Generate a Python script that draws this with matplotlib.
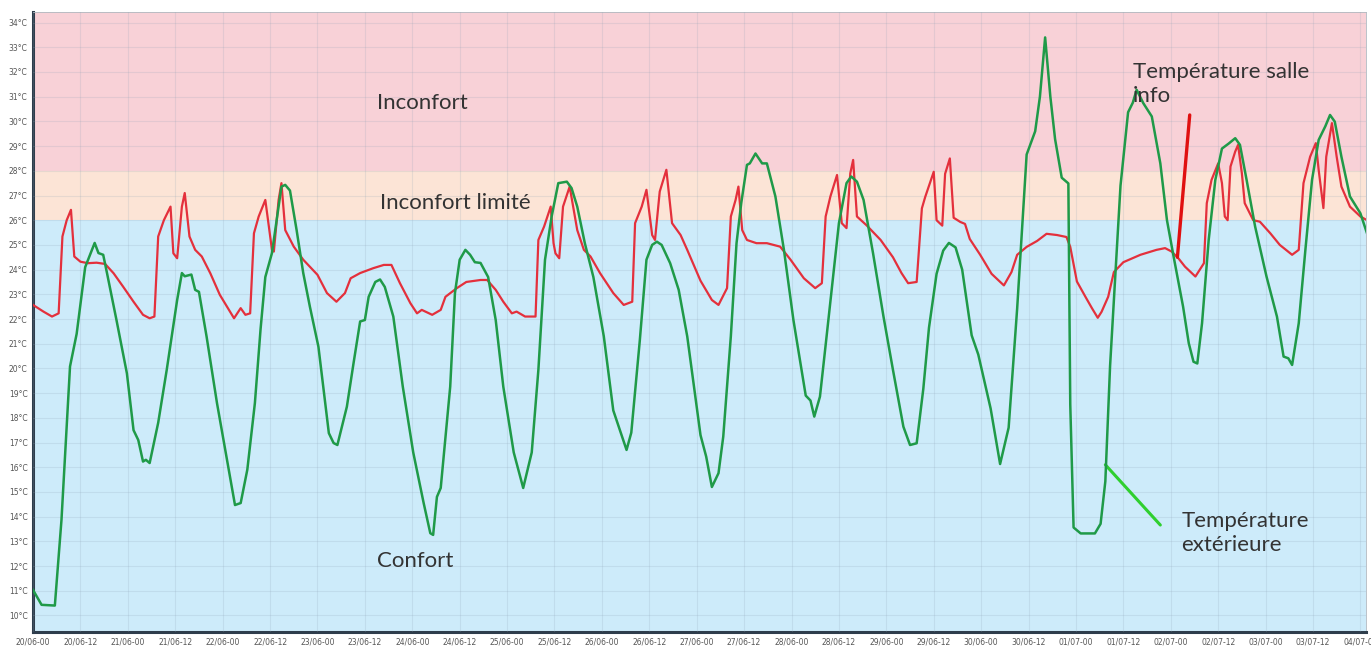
import matplotlib
matplotlib.use('Agg')
import matplotlib.pyplot as plt
import matplotlib.dates as mdates
import numpy as np
import pandas as pd

# start of the record, offsets below are in days
start = pd.Timestamp('2012-06-20 00:00')

# outdoor temperature (green)
ext_t = [0.0, 0.09, 0.23, 0.30, 0.39, 0.46, 0.55, 0.65, 0.69, 0.74, 0.78, 0.88, 0.99, 1.06, 1.11,
         1.16, 1.19, 1.23, 1.32, 1.41, 1.52, 1.57, 1.60, 1.67, 1.71, 1.75, 1.83, 1.94, 2.04, 2.13,
         2.19, 2.26, 2.34, 2.40, 2.45, 2.52, 2.62, 2.66, 2.71, 2.78, 2.85, 2.92, 3.01, 3.12, 3.17,
         3.21, 3.31, 3.38, 3.45, 3.50, 3.54, 3.61, 3.66, 3.71, 3.80, 3.90, 4.01, 4.12, 4.19, 4.22,
         4.26, 4.30, 4.40, 4.45, 4.50, 4.56, 4.61, 4.66, 4.72, 4.80, 4.88, 4.96, 5.07, 5.17, 5.26,
         5.33, 5.40, 5.47, 5.54, 5.63, 5.68, 5.74, 5.82, 5.91, 6.02, 6.12, 6.26, 6.31, 6.40, 6.47,
         6.53, 6.58, 6.63, 6.72, 6.81, 6.90, 7.04, 7.10, 7.16, 7.23, 7.28, 7.36, 7.42, 7.47, 7.53,
         7.56, 7.62, 7.69, 7.74, 7.83, 7.92, 8.02, 8.15, 8.20, 8.24, 8.30, 8.37, 8.50, 8.58, 8.63,
         8.69, 8.76, 8.86, 8.97, 9.07, 9.18, 9.25, 9.32, 9.39, 9.45, 9.53, 9.60, 9.66, 9.73, 9.80,
         9.90, 9.97, 10.10, 10.20, 10.29, 10.38, 10.48, 10.57, 10.62, 10.675, 10.73, 10.78, 10.85,
         10.92, 10.94, 10.975, 11.05, 11.20, 11.26, 11.31, 11.36, 11.47, 11.55, 11.60, 11.64, 11.71,
         11.80, 11.89, 11.96, 12.03, 12.13, 12.19, 12.24, 12.28, 12.33, 12.40, 12.47, 12.54, 12.61,
         12.68, 12.73, 12.80, 12.89, 13.01, 13.12, 13.19, 13.24, 13.28, 13.35, 13.42, 13.49, 13.56,
         13.63, 13.68, 13.73, 13.80, 13.89, 14.00, 14.07]
ext_T = [11.03, 10.43, 10.4, 13.87, 20.08, 21.4, 24.1, 25.08, 24.67, 24.6, 23.86, 21.96, 19.8, 17.5, 17.1,
         16.23, 16.3, 16.17, 17.8, 19.94, 22.77, 23.86, 23.73, 23.8, 23.18, 23.1, 21.3, 18.6, 16.43, 14.47,
         14.55, 15.9, 18.6, 21.6, 23.7, 24.67, 27.36, 27.43, 27.2, 25.6, 23.86, 22.5, 20.88, 17.38, 16.98,
         16.9, 18.45, 20.2, 21.9, 21.96, 22.9, 23.5, 23.6, 23.3, 22.1, 19.26, 16.6, 14.55, 13.33, 13.26,
         14.8, 15.16, 19.26, 23.05, 24.4, 24.8, 24.6, 24.3, 24.27, 23.7, 21.96, 19.26, 16.6, 15.16, 16.6,
         19.94, 24.4, 26.15, 27.5, 27.56, 27.3, 26.55, 25.07, 23.7, 21.3, 18.3, 16.7, 17.4, 21.14, 24.4,
         25.0, 25.13, 25.0, 24.26, 23.18, 21.3, 17.3, 16.43, 15.2, 15.76, 17.24, 21.3, 25.07, 26.7, 28.24,
         28.3, 28.7, 28.3, 28.3, 26.96, 24.8, 21.96, 18.9, 18.7, 18.05, 18.86, 21.3, 25.88, 27.5, 27.77,
         27.56, 26.82, 24.66, 22.1, 19.94, 17.64, 16.9, 16.97, 19.17, 21.65, 23.83, 24.77, 25.08, 24.9, 24.0,
         21.34, 20.56, 18.38, 16.13, 17.6, 22.43, 28.66, 29.6, 31.0, 33.4, 31.0, 29.28, 27.72,
         27.49, 18.54, 13.56, 13.32, 13.32, 13.71, 15.43, 20.1, 27.4, 30.37, 30.76, 31.28, 30.74,
         30.2, 28.3, 26.0, 24.53, 22.5, 21.02, 20.27, 20.2, 21.83, 25.2, 27.63, 28.9, 29.1,
         29.32, 29.05, 27.63, 25.74, 23.72, 22.1, 20.48, 20.41, 20.14, 21.83, 24.8, 27.63, 29.25,
         29.8, 30.26, 29.99, 28.57, 26.96, 26.28, 25.47]

# computer room temperature (red)
salle_t = [0.0, 0.11, 0.20, 0.27, 0.31, 0.355, 0.40, 0.435, 0.50, 0.58, 0.67, 0.76, 0.85, 0.95, 1.06,
           1.16, 1.23, 1.28, 1.32, 1.38, 1.45, 1.48, 1.52, 1.57, 1.60, 1.65, 1.71, 1.78, 1.87, 1.97,
           2.12, 2.19, 2.24, 2.29, 2.33, 2.38, 2.45, 2.52, 2.54, 2.59, 2.62, 2.66, 2.75, 2.85, 3.00,
           3.10, 3.20, 3.29, 3.35, 3.45, 3.59, 3.70, 3.78, 3.87, 3.98, 4.05, 4.10, 4.21, 4.30, 4.35,
           4.47, 4.57, 4.72, 4.79, 4.88, 4.96, 5.05, 5.10, 5.19, 5.30, 5.33, 5.39, 5.46, 5.49, 5.51,
           5.55, 5.59, 5.66, 5.74, 5.81, 5.88, 5.98, 6.12, 6.23, 6.32, 6.35, 6.42, 6.47, 6.53, 6.56,
           6.61, 6.68, 6.74, 6.83, 6.90, 7.04, 7.16, 7.23, 7.32, 7.36, 7.41, 7.44, 7.48, 7.53, 7.63,
           7.74, 7.88, 7.99, 8.13, 8.25, 8.32, 8.36, 8.41, 8.48, 8.53, 8.58, 8.62, 8.65, 8.69, 8.79,
           8.94, 9.07, 9.16, 9.23, 9.32, 9.375, 9.41, 9.50, 9.53, 9.59, 9.62, 9.67, 9.71, 9.78, 9.83,
           9.88, 9.99, 10.11, 10.24, 10.32, 10.38, 10.48, 10.59, 10.69, 10.80, 10.90, 10.94, 11.01,
           11.10, 11.17, 11.23, 11.27, 11.34, 11.40, 11.50, 11.68, 11.85, 11.94, 12.01, 12.08, 12.15,
           12.26, 12.35, 12.38, 12.43, 12.50, 12.54, 12.57, 12.60, 12.63, 12.68, 12.71, 12.75, 12.78,
           12.87, 12.94, 13.05, 13.15, 13.28, 13.35, 13.40, 13.47, 13.53, 13.56, 13.61, 13.64, 13.70,
           13.75, 13.80, 13.89, 14.00, 14.07]
salle_T = [22.57, 22.3, 22.1, 22.23, 25.34, 26.0, 26.42, 24.53, 24.32, 24.26, 24.28, 24.23, 23.85, 23.31, 22.7,
           22.17, 22.03, 22.1, 25.34, 26.0, 26.55, 24.66, 24.46, 26.55, 27.1, 25.34, 24.8, 24.53, 23.85, 22.98,
           22.03, 22.44, 22.17, 22.23, 25.47, 26.15, 26.82, 24.8, 24.73, 26.82, 27.5, 25.6, 24.93, 24.4, 23.79,
           23.05, 22.7, 23.05, 23.65, 23.86, 24.06, 24.19, 24.19, 23.45, 22.64, 22.23, 22.37, 22.17, 22.37, 22.9,
           23.25, 23.5, 23.58, 23.58, 23.18, 22.7, 22.23, 22.3, 22.1, 22.1, 25.2, 25.74, 26.55, 25.07, 24.66,
           24.46, 26.55, 27.36, 25.6, 24.8, 24.53, 23.86, 23.05, 22.57, 22.7, 25.88, 26.55, 27.23, 25.4, 25.2,
           27.16, 28.04, 25.88, 25.4, 24.8, 23.55, 22.77, 22.57, 23.25, 26.15, 26.82, 27.36, 25.6, 25.2, 25.07,
           25.07, 24.93, 24.4, 23.65, 23.25, 23.45, 26.15, 26.96, 27.83, 25.88, 25.68, 27.9, 28.44, 26.15, 25.8,
           25.2, 24.5, 23.86, 23.45, 23.5, 26.48, 26.94, 27.96, 26.0, 25.78, 27.88, 28.5, 26.1, 25.93, 25.85,
           25.24, 24.6, 23.83, 23.36, 23.9, 24.6, 24.92, 25.16, 25.45, 25.4, 25.32, 24.92, 23.52,
           22.9, 22.43, 22.05, 22.29, 22.9, 23.9, 24.3, 24.6, 24.8, 24.87, 24.73, 24.46, 24.12,
           23.72, 24.26, 26.69, 27.63, 28.3, 27.5, 26.15, 26.0, 28.17, 28.78, 29.05, 27.9, 26.69,
           26.0, 25.94, 25.47, 25.0, 24.6, 24.8, 27.5, 28.57, 29.12, 28.04, 26.49, 28.57, 29.93,
           28.57, 27.36, 26.55, 26.15, 26.0]

# comfort zones (°C)
zone_limits = [26, 28]
zone_names = ['Confort', 'Inconfort limité', 'Inconfort']

ext_x = start + pd.to_timedelta(ext_t, unit='D')
salle_x = start + pd.to_timedelta(salle_t, unit='D')


def day(d):
    return start + pd.Timedelta(days=d)


fig = plt.figure(figsize=(13.71, 6.47), dpi=100)
ax = fig.add_axes([0.0241, 0.0232, 0.9723, 0.9583])

ymin, ymax = 9.33, 34.43
ax.axhspan(ymin, zone_limits[0], color='#cdebfa', lw=0, zorder=0)
ax.axhspan(zone_limits[0], zone_limits[1], color='#fce4d6', lw=0, zorder=0)
ax.axhspan(zone_limits[1], ymax, color='#f8d1d7', lw=0, zorder=0)

ax.plot(salle_x, salle_T, color='#e4303c', lw=1.6, zorder=3)
ax.plot(ext_x, ext_T, color='#1f9a48', lw=1.8, zorder=4)

ax.set_ylim(ymin, ymax)
ax.set_xlim(day(0), day(14.06))

ax.set_yticks(np.arange(10, 35, 1))
ax.set_yticklabels([f'{v}°C' for v in range(10, 35)])
ax.xaxis.set_major_locator(mdates.HourLocator(byhour=[0, 12]))
ax.xaxis.set_major_formatter(mdates.DateFormatter('%d/%m-%H'))
ax.tick_params(axis='both', labelsize=5.5, colors='#555555', length=0, pad=4)
ax.grid(True, color='#8fa3b5', alpha=0.2, lw=0.8, zorder=1)
ax.set_axisbelow(False)

for s in ['left', 'bottom']:
    ax.spines[s].set_color('#2e3d4c')
    ax.spines[s].set_linewidth(2.2)
for s in ['top', 'right']:
    ax.spines[s].set_color('#b0b8c0')
    ax.spines[s].set_linewidth(0.6)

txt = dict(fontsize=16, color='#333333', family=['Lato', 'DejaVu Sans'], zorder=6)
ax.text(day(3.63), 30.75, zone_names[2], va='center', ha='left', **txt)
ax.text(day(3.66), 26.7, zone_names[1], va='center', ha='left', **txt)
ax.text(day(3.63), 12.2, zone_names[0], va='center', ha='left', **txt)

# series labels with their pointer lines
ax.text(day(11.6), 31.5, 'Température salle\ninfo', va='center', ha='left',
        linespacing=1.25, **txt)
ax.annotate('', xy=(day(12.2), 30.26), xytext=(day(12.07), 24.5),
            arrowprops=dict(arrowstyle='-', color='#e01010', lw=2.4, shrinkA=0, shrinkB=0))
ax.text(day(12.11), 13.34, 'Température\nextérieure', va='center', ha='left',
        linespacing=1.25, **txt)
ax.annotate('', xy=(day(11.31), 16.1), xytext=(day(11.89), 13.66),
            arrowprops=dict(arrowstyle='-', color='#2fcf2f', lw=2.2, shrinkA=0, shrinkB=0))

fig.savefig('out.png', dpi=100)
